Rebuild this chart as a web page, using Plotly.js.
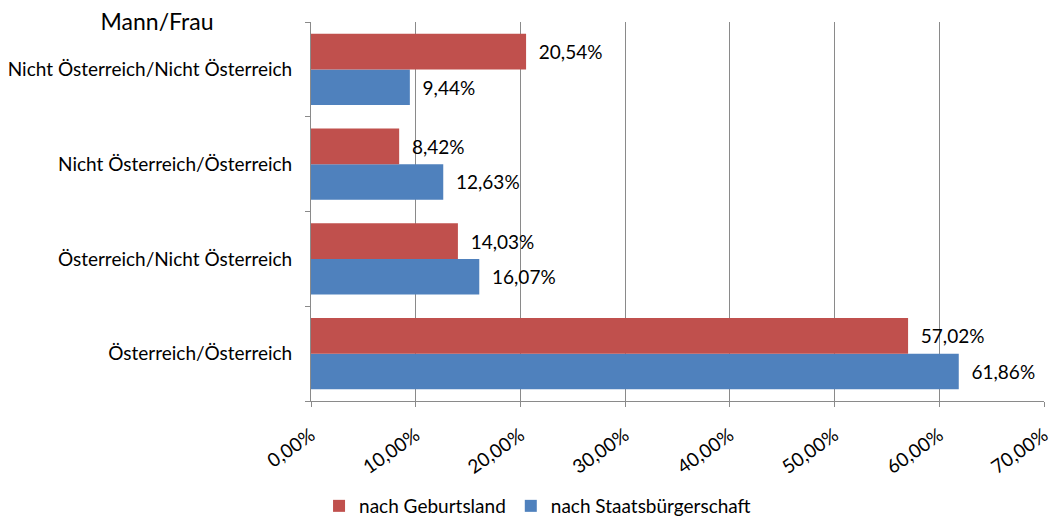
<!DOCTYPE html>
<html>
<head>
<meta charset="utf-8">
<script src="https://cdn.plot.ly/plotly-3.0.1.min.js"></script>
<style>html,body{margin:0;padding:0;background:#fff;}#chart{width:1054px;height:525px;}</style>
</head>
<body>
<div id="chart"></div>
<script>
const categories = ["Österreich/Österreich", "Österreich/Nicht Österreich", "Nicht Österreich/Österreich", "Nicht Österreich/Nicht Österreich"];
const geburtsland = [57.02, 14.03, 8.42, 20.54];
const staatsbuergerschaft = [61.86, 16.07, 12.63, 9.44];
const tickValues = [0, 10, 20, 30, 40, 50, 60, 70];
const tickLabels = ["0,00%", "10,00%", "20,00%", "30,00%", "40,00%", "50,00%", "60,00%", "70,00%"];

const FONT = "Lato, 'Open Sans', sans-serif";
const FS = 19;
const traces = [
  {
    type: 'bar', orientation: 'h', name: 'nach Staatsbürgerschaft',
    y: categories, x: staatsbuergerschaft,
    marker: {color: '#4F81BD'},
    texttemplate: '  %{x:.2f}%', textposition: 'outside', cliponaxis: false,
    textfont: {size: FS, color: '#000', family: FONT},
    hoverinfo: 'skip'
  },
  {
    type: 'bar', orientation: 'h', name: 'nach Geburtsland',
    y: categories, x: geburtsland,
    marker: {color: '#C0504D'},
    texttemplate: '  %{x:.2f}%', textposition: 'outside', cliponaxis: false,
    textfont: {size: FS, color: '#000', family: FONT},
    hoverinfo: 'skip'
  }
];
const layout = {
  width: 1054, height: 525,
  margin: {l: 311, r: 10, t: 22, b: 124},
  separators: ',.',
  font: {family: FONT, size: FS, color: '#000'},
  paper_bgcolor: '#fff', plot_bgcolor: '#fff',
  barmode: 'group', bargap: 0.25, bargroupgap: 0,
  title: {text: 'Mann/Frau', font: {size: 23, family: FONT}, xref: 'container', x: 0.149, xanchor: 'center', yref: 'container', y: 0.958, yanchor: 'middle'},
  xaxis: {
    range: [0, 70.0001], tickmode: 'array', tickvals: tickValues, ticktext: tickLabels,
    tickangle: -35, showgrid: true, gridcolor: '#8a8a8a', gridwidth: 1,
    showline: true, linecolor: '#8a8a8a', ticks: 'outside', ticklen: 5, tickcolor: '#8a8a8a',
    zeroline: false, tickfont: {size: FS}, ticklabelstandoff: 10, ticklabeloverflow: 'allow',
    fixedrange: true
  },
  yaxis: {
    type: 'category', showgrid: false, showline: true, linecolor: '#8a8a8a',
    ticks: 'outside', ticklen: 5, tickcolor: '#8a8a8a', tickson: 'boundaries',
    tickfont: {size: FS}, ticklabelstandoff: 14, fixedrange: true
  },
  showlegend: true,
  legend: {orientation: 'h', traceorder: 'reversed', xref: 'container', yref: 'container', x: 0.51, xanchor: 'center', y: 0.0, yanchor: 'bottom', font: {size: FS}, itemwidth: 30, tracegroupgap: 0}
};
Plotly.newPlot('chart', traces, layout, {displayModeBar: false, staticPlot: true});
</script>
</body>
</html>
